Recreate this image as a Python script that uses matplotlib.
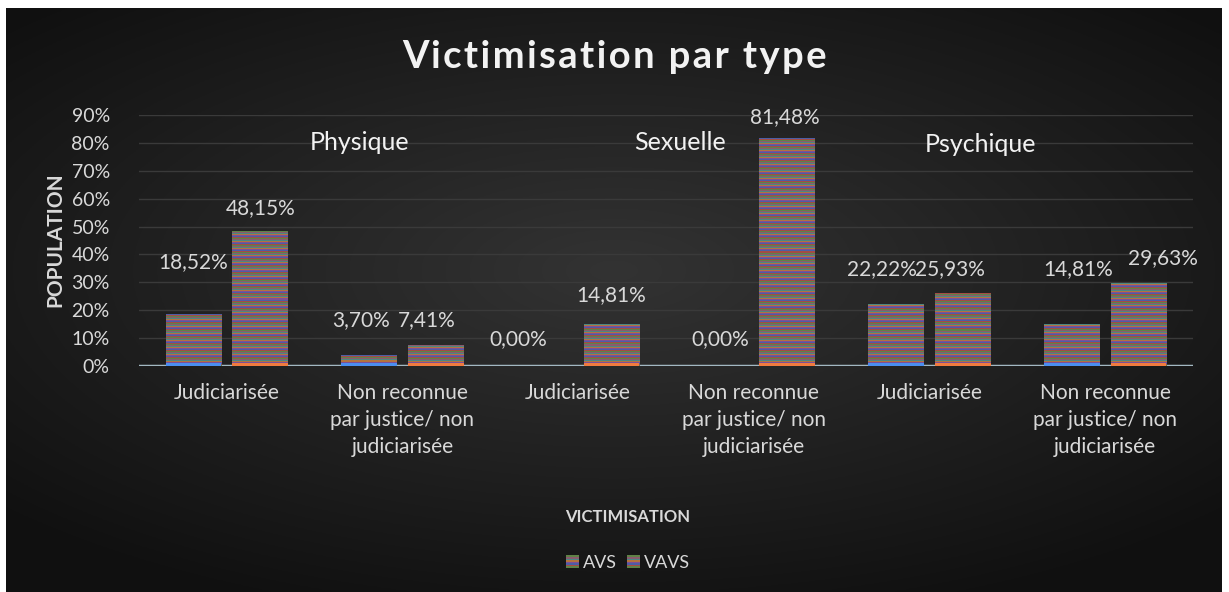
import numpy as np
import matplotlib
matplotlib.use("Agg")
import matplotlib.pyplot as plt
from matplotlib.colors import to_rgb
from matplotlib.patches import Rectangle
from matplotlib.legend_handler import HandlerBase

# --- data ---
categories = [
    "Judiciarisée",
    "Non reconnue\npar justice/ non\njudiciarisée",
    "Judiciarisée",
    "Non reconnue\npar justice/ non\njudiciarisée",
    "Judiciarisée",
    "Non reconnue\npar justice/ non\njudiciarisée",
]
avs = [18.52, 3.70, 0.00, 0.00, 22.22, 14.81]
vavs = [48.15, 7.41, 14.81, 81.48, 25.93, 29.63]
groups = ["Physique", "Sexuelle", "Psychique"]
series_names = ["AVS", "VAVS"]

# label placement (style): height of label centre in axis units, x shift in px
avs_label_y = [37.3, 16.5, 9.7, 9.7, 34.8, 34.8]
vavs_label_y = [56.6, 16.5, 25.4, 89.2, 34.8, 38.7]
avs_label_dx = [0, -8, -27, 0, -14, 6]
vavs_label_dx = [0, -9, 0, -2, -13, 24]

STRIPES = ["#5f8246", "#a34c45", "#4c5ea6", "#7e4f98", "#b3733f", "#4b8782", "#8a5a6e"]
TXT = "#d9d9d9"
FONT = "Lato"

plt.rcParams["font.family"] = [FONT, "DejaVu Sans"]

fig = plt.figure(figsize=(12.29, 5.92), dpi=100)
fig.patch.set_facecolor("white")

# dark radial background of the chart area
bg = fig.add_axes([6 / 1229, 0, 1216 / 1229, 584 / 592], zorder=-10)
yy, xx = np.mgrid[-1:1:300j, -1:1:600j]
r = np.sqrt((xx * 0.9) ** 2 + ((yy + 0.1) * 1.0) ** 2)
shade = np.clip(0.20 - 0.11 * r, 0.065, 0.2)
bg.imshow(np.dstack([shade] * 3), aspect="auto", extent=[0, 1, 0, 1])
bg.set_axis_off()

ax = fig.add_axes([139 / 1229, 226 / 592, 1054 / 1229, 251 / 592])
ax.set_facecolor("none")
x = np.arange(len(categories))
w = 0.318
off = 0.19

bars_a = ax.bar(x - off, avs, w, color="none", zorder=3)
bars_v = ax.bar(x + off, vavs, w, color="none", zorder=3)

px_per_unit = 251 / 90


def stripe_fill(patch):
    x0, wd, h = patch.get_x(), patch.get_width(), patch.get_height()
    if h <= 0:
        return
    rows = max(int(round(h * px_per_unit)), 1)
    cols = np.array([to_rgb(STRIPES[i % len(STRIPES)]) for i in range(rows)])
    ax.imshow(cols[::-1].reshape(rows, 1, 3), extent=[x0, x0 + wd, 0, h],
              aspect="auto", interpolation="nearest", zorder=3)


for p in list(bars_a) + list(bars_v):
    stripe_fill(p)

# thin coloured base of each bar
ax.bar(x - off, np.minimum(avs, 1.1), w, color="#4a8ef0", zorder=4)
ax.bar(x + off, np.minimum(vavs, 1.1), w, color="#f07b3f", zorder=4)

ax.set_xlim(-0.5, len(categories) - 0.5)
ax.set_ylim(0, 90)

ax.axhline(0, color="#a3b8c2", lw=2.5, zorder=2)
ax.set_yticks(np.arange(0, 91, 10))
ax.set_yticklabels([f"{v}%" for v in range(0, 91, 10)])
ax.yaxis.grid(True, color="#3a3a3a", lw=1)
ax.set_axisbelow(True)
for s in ax.spines.values():
    s.set_visible(False)
ax.tick_params(length=0, colors=TXT, labelsize=14)
ax.tick_params(axis="y", pad=21)
ax.tick_params(axis="x", pad=12, labelsize=15)
ax.set_xticks(x)
ax.set_xticklabels(categories, linespacing=1.45)


def fmt(v):
    return f"{v:.2f}%".replace(".", ",")


for i in range(len(categories)):
    ax.annotate(fmt(avs[i]), (x[i] - off, avs_label_y[i]), xytext=(avs_label_dx[i] * 0.72, 0),
                textcoords="offset points", ha="center", va="center", color=TXT, fontsize=15)
    ax.annotate(fmt(vavs[i]), (x[i] + off, vavs_label_y[i]), xytext=(vavs_label_dx[i] * 0.72, 0),
                textcoords="offset points", ha="center", va="center", color=TXT, fontsize=15)

# group names
fig.text(360 / 1229, 1 - 143 / 592, groups[0], ha="center", va="center", color="#f2f2f2", fontsize=18)
fig.text(680 / 1229, 1 - 143 / 592, groups[1], ha="center", va="center", color="#f2f2f2", fontsize=18)
fig.text(980 / 1229, 1 - 145 / 592, groups[2], ha="center", va="center", color="#f2f2f2", fontsize=18)

title = "\u200a".join("Victimisation par type")
fig.text(615 / 1229, 1 - 57 / 592, title, ha="center", va="center",
         color="#f2f2f2", fontsize=27.5, fontweight="bold")
fig.text(55 / 1229, 1 - 240 / 592, "POPULATION", rotation=90, ha="center", va="center",
         color=TXT, fontsize=15, fontweight="bold")
fig.text(628 / 1229, 1 - 517 / 592, "VICTIMISATION", ha="center", va="center",
         color=TXT, fontsize=12, fontweight="bold")


class StripeHandler(HandlerBase):
    def create_artists(self, legend, orig_handle, xdescent, ydescent, width, height, fontsize, trans):
        n = 8
        size = height
        x0, y0 = -xdescent + (width - size) / 2, -ydescent
        arts = []
        for k in range(n):
            arts.append(Rectangle((x0, y0 + k * size / n), size, size / n,
                                  facecolor=STRIPES[k % len(STRIPES)], edgecolor="none", transform=trans))
        return arts


handles = [Rectangle((0, 0), 1, 1), Rectangle((0, 0), 1, 1)]
fig.legend(handles, series_names, handler_map={Rectangle: StripeHandler()},
           loc="center", bbox_to_anchor=(628 / 1229, 1 - 563 / 592), ncol=2, frameon=False,
           labelcolor=TXT, fontsize=13, handlelength=0.7, handleheight=0.7,
           handletextpad=0.2, columnspacing=0.6)

fig.savefig("out.png", dpi=100, facecolor=fig.get_facecolor())
